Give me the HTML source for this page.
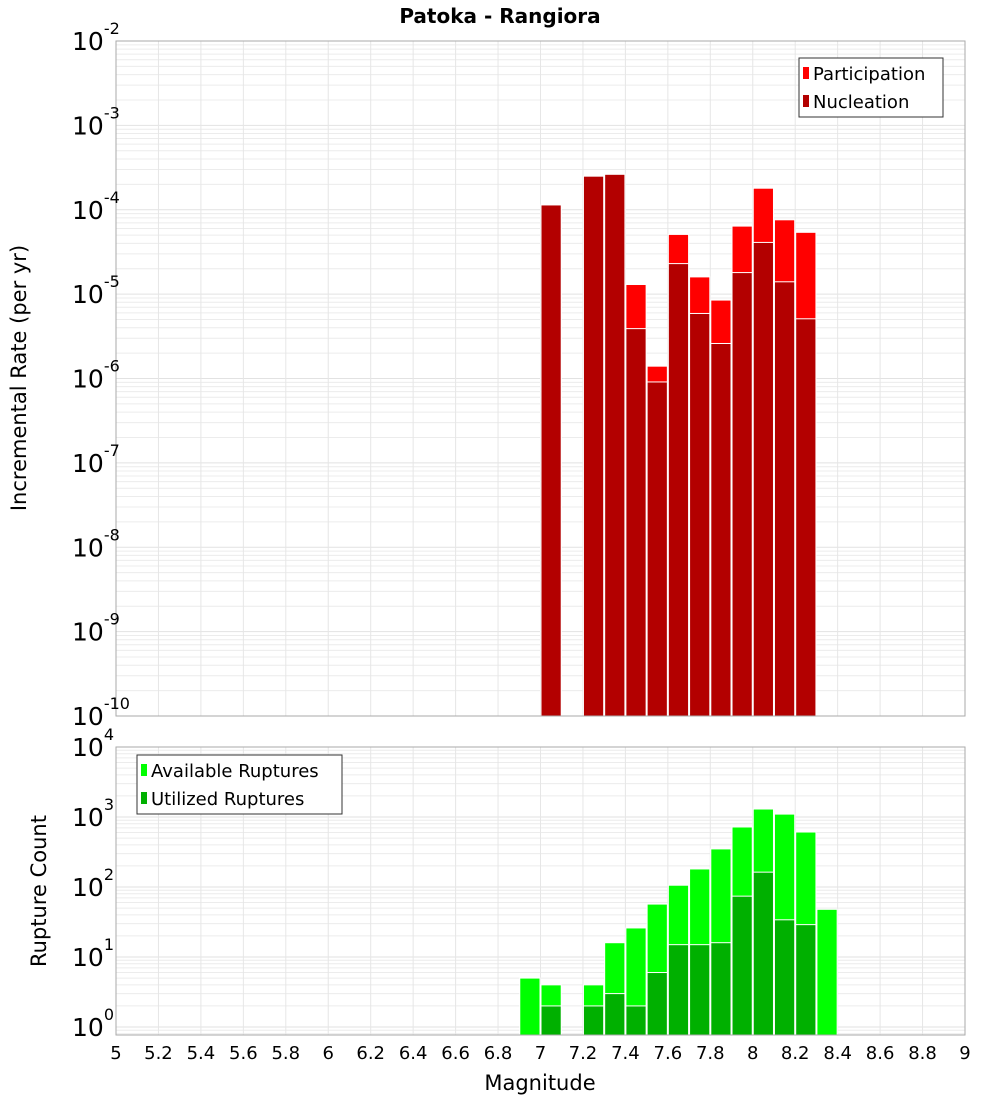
<!DOCTYPE html>
<html><head><meta charset="utf-8"><style>
body{margin:0;background:#fff;}
svg{display:block;font-family:"DejaVu Sans","Liberation Sans",sans-serif;}
</style></head><body>
<svg id="c" width="1000" height="1100" viewBox="0 0 1000 1100">
<text x="500" y="23" text-anchor="middle" font-weight="bold" font-size="20">Patoka - Rangiora</text>
<text transform="translate(26,378) rotate(-90)" text-anchor="middle" font-size="21">Incremental Rate (per yr)</text>
<text transform="translate(46,891) rotate(-90)" text-anchor="middle" font-size="21">Rupture Count</text>
<text x="540" y="1090" text-anchor="middle" font-size="21">Magnitude</text>
<g id="grid"></g><g id="bars"></g><g id="axes"></g>
<g>
<rect x="799" y="58" width="144" height="59" fill="#fff" stroke="#333" stroke-width="1"/>
<rect x="803" y="67" width="6" height="12" fill="#ff0000"/>
<text x="813" y="80" font-size="18">Participation</text>
<rect x="803" y="95" width="6" height="12" fill="#b30000"/>
<text x="813" y="108" font-size="18">Nucleation</text>
</g>
<g>
<rect x="137" y="755" width="205" height="59" fill="#fff" stroke="#333" stroke-width="1"/>
<rect x="141" y="764" width="6" height="12" fill="#00ff00"/>
<text x="151" y="777" font-size="18">Available Ruptures</text>
<rect x="141" y="792" width="6" height="12" fill="#00b000"/>
<text x="151" y="805" font-size="18">Utilized Ruptures</text>
</g>
</svg>
<script>
const mags=[6.95,7.05,7.25,7.35,7.45,7.55,7.65,7.75,7.85,7.95,8.05,8.15,8.25,8.35];
const participation=[0,1.14e-4,2.5e-4,2.63e-4,1.3e-5,1.4e-6,5.1e-5,1.6e-5,8.5e-6,6.4e-5,1.8e-4,7.6e-5,5.4e-5,0];
const nucleation=[0,1.14e-4,2.5e-4,2.63e-4,3.9e-6,9.1e-7,2.3e-5,5.9e-6,2.6e-6,1.8e-5,4.1e-5,1.4e-5,5.1e-6,0];
const available=[5,4,4,16,26,57,106,181,350,720,1300,1100,610,48];
const utilized=[0,2,2,3,2,6,15,15,16,74,163,34,29,0];
const xTicks=[5,5.2,5.4,5.6,5.8,6,6.2,6.4,6.6,6.8,7,7.2,7.4,7.6,7.8,8,8.2,8.4,8.6,8.8,9];
const topExps=[-2,-3,-4,-5,-6,-7,-8,-9,-10];
const botExps=[4,3,2,1,0];

const NS="http://www.w3.org/2000/svg";
const X0=116,X1=965;
const x=m=>X0+(m-5)/4*(X1-X0);
const TT=41,TB=716;
const yTop=v=>TT+(-2-Math.log10(v))*((TB-TT)/8);
const BT=747,BB=1035,BD=70;
const yBot=v=>BT+(4-Math.log10(v))*BD;
function mk(tag,attrs,parent){const e=document.createElementNS(NS,tag);for(const k in attrs)e.setAttribute(k,attrs[k]);parent.appendChild(e);return e;}
const grid=document.getElementById('grid'),bars=document.getElementById('bars'),axes=document.getElementById('axes');
// backgrounds & grids
mk('rect',{x:X0,y:TT,width:X1-X0,height:TB-TT,fill:'#fff'},grid);
mk('rect',{x:X0,y:BT,width:X1-X0,height:BB-BT,fill:'#fff'},grid);
function hgrid(yf,e0,e1,top,bot){for(let e=e0;e<=e1;e++){for(let k=1;k<10;k++){const yy=yf(k*Math.pow(10,e));if(yy<top-0.5||yy>bot+0.5)continue;const l=mk('line',{x1:X0,x2:X1,y1:yy,y2:yy,stroke:k==1?'#e2e2e2':'#ececec','stroke-width':1},grid);

}}}
hgrid(yTop,-10,-2,TT,TB);hgrid(yBot,-1,4,BT,BB);
xTicks.forEach(t=>{[[TT,TB],[BT,BB]].forEach(r=>{const l=mk('line',{x1:x(t),x2:x(t),y1:r[0],y2:r[1],stroke:'#e6e6e6'},grid);

});
const tx=mk('text',{x:x(t),y:1059,'text-anchor':'middle','font-size':18},axes);tx.textContent=String(t);

});
// bars
const bw=(X1-X0)/40;
function bar(m,v,yf,base,col,name){if(!v)return;const yy=yf(v);const r=mk('rect',{x:x(m)-bw/2+0.5,y:yy,width:bw-1,height:base-yy,fill:col,stroke:'#fff','stroke-width':1},bars);

}
mags.forEach((m,i)=>{bar(m,participation[i],yTop,TB,'#ff0000','participation-bar');bar(m,nucleation[i],yTop,TB,'#b30000','nucleation-bar');
bar(m,available[i],yBot,BB,'#00ff00','available-bar');bar(m,utilized[i],yBot,BB,'#00b000','utilized-bar');});
// frames
mk('rect',{x:X0,y:TT,width:X1-X0,height:TB-TT,fill:'none',stroke:'#aaa'},axes);
mk('rect',{x:X0,y:BT,width:X1-X0,height:BB-BT,fill:'none',stroke:'#aaa'},axes);
function ylab(yy,e){const t=mk('text',{x:72,y:yy+9,'font-size':25},axes);


t.textContent='10';const s=mk('tspan',{dy:-16,'font-size':16},t);s.textContent=String(e);}
topExps.forEach(e=>ylab(yTop(Math.pow(10,e)),e));
botExps.forEach(e=>ylab(yBot(Math.pow(10,e)),e));
</script>
</body></html>
